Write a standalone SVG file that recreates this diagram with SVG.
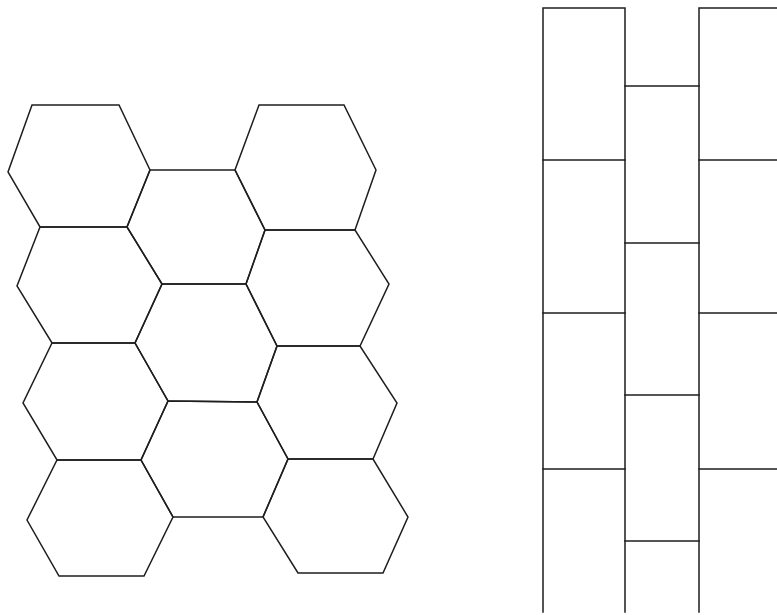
<svg xmlns="http://www.w3.org/2000/svg" width="777" height="615" viewBox="0 0 777 615">
<style>
.ln{fill:none;stroke:#1e1e1e;stroke-width:1.5;stroke-linejoin:miter;stroke-linecap:square}
</style>
<rect width="777" height="615" fill="#ffffff"/>
<g id="hexagons" class="ln">
<polygon id="L1" points="32,105 119,105 150,170 127,227 40,227 8,172"/>
<polygon id="R1" points="259,105 344,105 376,170 355,230 265,230 235,170"/>
<polygon id="M1" points="150,170 235,170 265,230 246,284 162,284 127,227"/>
<polygon id="L2" points="40,227 127,227 162,284 135,343 52,343 17,286"/>
<polygon id="R2" points="265,230 355,230 389,284 360,346 277,346 246,284"/>
<polygon id="M2" points="162,284 246,284 277,346 257,402 168,401 135,343"/>
<polygon id="L3" points="52,343 135,343 168,401 141,460 57,460 23,403"/>
<polygon id="R3" points="277,346 360,346 397,403 373,459 288,459 257,402"/>
<polygon id="M3" points="168,401 257,402 288,459 263,517 173,517 141,460"/>
<polygon id="L4" points="57,460 141,460 173,517 144,576 59,576 27,520"/>
<polygon id="R4" points="288,459 373,459 408,517 383,573 298,573 263,517"/>
</g>
<g id="bricks" class="ln">
<path d="M543,612 V8 H625 V612"/>
<path d="M699,612 V8 H780"/>
<path d="M543,160 H625 M543,313 H625 M543,469 H625"/>
<path d="M625,86 H699 M625,243 H699 M625,395 H699 M625,541 H699"/>
<path d="M699,160 H780 M699,313 H780 M699,469 H780"/>
</g>
</svg>
